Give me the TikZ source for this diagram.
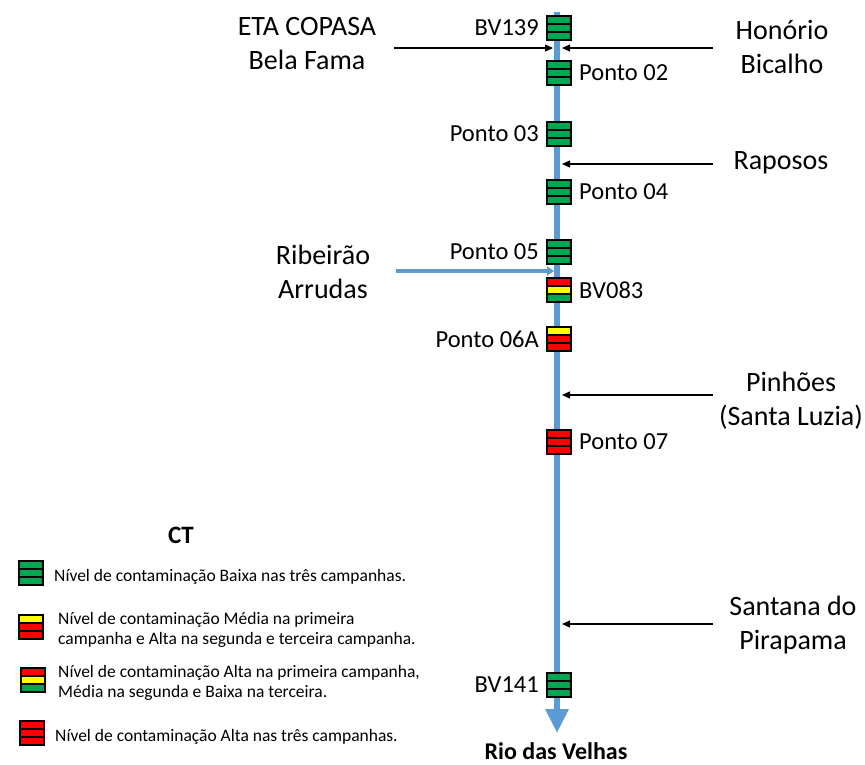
\documentclass[tikz,border=0pt]{standalone}
\usepackage{fontspec}
\setmainfont{Carlito}
\usetikzlibrary{arrows.meta,positioning,calc}

\definecolor{riverblue}{RGB}{91,155,213}
\definecolor{lowgreen}{RGB}{0,166,81}
\definecolor{midyellow}{RGB}{255,255,0}
\definecolor{highred}{RGB}{255,0,0}

\tikzset{
  % three-band sampling marker: top, middle, bottom colours
  stripes/.style n args={3}{
    draw=black, line width=1.2pt, minimum width=24pt, minimum height=24pt,
    inner sep=0pt, outer sep=0pt,
    path picture={
      \coordinate (pa) at (path picture bounding box.north west);
      \coordinate (pb) at (path picture bounding box.south east);
      \coordinate (l1) at ($(pa)!1/3!(pa|-pb)$);
      \coordinate (l2) at ($(pa)!2/3!(pa|-pb)$);
      \fill[#1] (pa) rectangle (l1 -| pb);
      \fill[#2] (l1) rectangle (l2 -| pb);
      \fill[#3] (l2) rectangle (pb);
      \draw[black, line width=1.2pt] (l1) -- (l1 -| pb) (l2) -- (l2 -| pb);
    }},
  allgreen/.style={stripes={lowgreen}{lowgreen}{lowgreen}},
  allred/.style={stripes={highred}{highred}{highred}},
  ptlabel/.style={inner sep=0pt, font=\fontsize{24.5}{28}\selectfont},
  biglabel/.style={inner sep=0pt, align=center, font=\fontsize{28}{34}\selectfont},
  legtext/.style={inner sep=0pt, align=left, anchor=west, font=\fontsize{17.5}{20}\selectfont},
  inflow/.style={black, line width=1.2pt, -{Triangle[width=7pt,length=8pt]}},
  river/.style={riverblue, line width=6.5pt, -{Triangle[width=22pt,length=24pt]}},
}

\begin{document}
\begin{tikzpicture}[x=1pt, y=-1pt]
  \fill[white] (0,0) rectangle (865,764);
  \useasboundingbox (0,0) rectangle (865,764);

  % main river
  \coordinate (src) at (557,12);
  \coordinate (mouth) at (557,733);
  \draw[river] (src) -- (mouth);

  % tributaries and inflows
  \coordinate (etaS) at (394,48);  \coordinate (etaE) at (553,48);
  \coordinate (honS) at (713,48);  \coordinate (honE) at (562,48);
  \coordinate (rapS) at (713,164); \coordinate (rapE) at (562,164);
  \coordinate (ribS) at (396,271); \coordinate (ribE) at (554,271);
  \coordinate (pinS) at (713,395); \coordinate (pinE) at (562,395);
  \coordinate (sanS) at (713,624); \coordinate (sanE) at (562,624);
  \draw[inflow] (etaS) -- (etaE);
  \draw[inflow] (honS) -- (honE);
  \draw[inflow] (rapS) -- (rapE);
  \draw[inflow] (pinS) -- (pinE);
  \draw[inflow] (sanS) -- (sanE);
  \draw[riverblue, line width=3.3pt, -{Triangle[width=9pt,length=7pt]}] (ribS) -- (ribE);

  % sampling points along the river
  \node[allgreen] (bv139) at (559,28) {};
  \node[allgreen] (p02)   at (559,73) {};
  \node[allgreen] (p03)   at (559,134) {};
  \node[allgreen] (p04)   at (559,192) {};
  \node[allgreen] (p05)   at (559,252) {};
  \node[stripes={highred}{midyellow}{lowgreen}] (bv083) at (559,290) {};
  \node[stripes={midyellow}{highred}{highred}]  (p06a)  at (559,339) {};
  \node[allred]   (p07)   at (559,442) {};
  \node[allgreen] (bv141) at (559,685) {};

  \node[ptlabel, left=8pt of bv139] (tbv139) {BV139};
  \node[ptlabel, right=8pt of p02] (tp02) {Ponto 02};
  \node[ptlabel, left=8pt of p03] (tp03) {Ponto 03};
  \node[ptlabel, right=8pt of p04] (tp04) {Ponto 04};
  \node[ptlabel, left=8pt of p05] (tp05) {Ponto 05};
  \node[ptlabel, right=8pt of bv083] (tbv083) {BV083};
  \node[ptlabel, left=8pt of p06a] (tp06a) {Ponto 06A};
  \node[ptlabel, right=8pt of p07] (tp07) {Ponto 07};
  \node[ptlabel, left=8pt of bv141] (tbv141) {BV141};

  % place names
  \node[biglabel] (eta) at (307,44) {ETA COPASA\\Bela Fama};
  \node[biglabel] (hon) at (782,47) {Honório\\Bicalho};
  \node[biglabel] (rap) at (781,163) {Raposos};
  \node[biglabel] (rib) at (323,272) {Ribeirão\\Arrudas};
  \node[biglabel] (pin) at (791,401) {Pinhões\\(Santa Luzia)};
  \node[biglabel] (san) at (793,625) {Santana do\\Pirapama};
  \node[inner sep=0pt, font=\bfseries\fontsize{24}{28}\selectfont] (rdv) at (556,751) {Rio das Velhas};

  % legend
  \node[inner sep=0pt, font=\bfseries\fontsize{25}{30}\selectfont] (ct) at (181,535) {CT};
  \node[allgreen] (k1) at (31,573) {};
  \node[stripes={midyellow}{highred}{highred}] (k2) at (31,627) {};
  \node[stripes={highred}{midyellow}{lowgreen}] (k3) at (33,680) {};
  \node[allred] (k4) at (32,733) {};
  \node[legtext] (t1) at (54,577) {Nível de contaminação Baixa nas três campanhas.};
  \node[legtext] (t2) at (58,630) {Nível de contaminação Média na primeira\\campanha e Alta na segunda e terceira campanha.};
  \node[legtext] (t3) at (58,683) {Nível de contaminação Alta na primeira campanha,\\Média na segunda e Baixa na terceira.};
  \node[legtext] (t4) at (55,737) {Nível de contaminação Alta nas três campanhas.};
\end{tikzpicture}
\end{document}
